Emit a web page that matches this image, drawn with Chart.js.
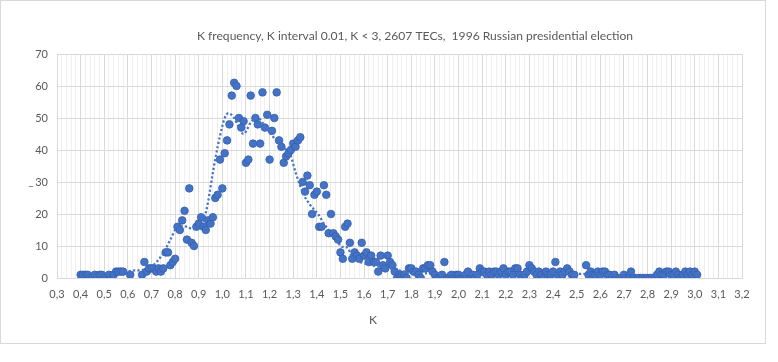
<!DOCTYPE html>
<html><head><meta charset="utf-8">
<script src="https://cdn.jsdelivr.net/npm/chart.js@4/dist/chart.umd.min.js"></script>
<style>html,body{margin:0;padding:0;background:#fff;}#wrap{width:778px;height:362px;position:relative;}</style>
</head><body><div id="wrap"><canvas id="c" width="778" height="362"></canvas></div>
<script>
const titleText = 'K frequency, K interval 0.01, K < 3, 2607 TECs,  1996 Russian presidential election';
const xAxisTitle = 'K';
const yAxisTitle = '_';
// K categories: 0.40 .. 3.01 in steps of 0.01 (null = no point)
const kStart = 0.40;
const kStep = 0.01;
const counts = [
  1,1,1,1,0,0,1,0,1,1,          // 0.40
  0,0,1,0,1,2,2,2,2,null,       // 0.50
  null,1,null,null,null,null,1,5,2,3, // 0.60
  3,3,2,3,2,3,8,8,4,5,          // 0.70
  6,16,15,18,21,12,28,11,10,16, // 0.80
  17,19,16,15,18,17,19,25,26,37,// 0.90
  28,39,43,48,57,61,60,50,47,49,// 1.00
  36,37,57,42,50,48,42,58,47,51,// 1.10
  37,46,50,58,43,41,36,38,39,40,// 1.20
  42,41,43,44,30,27,32,29,20,26,// 1.30
  27,16,16,29,26,14,20,14,13,12,// 1.40
  8,6,16,17,11,6,8,7,6,11,      // 1.50
  7,8,5,7,5,5,2,7,4,3,          // 1.60
  7,5,4,2,0,1,1,1,0,3,          // 1.70
  3,2,2,1,0,3,3,4,4,2,          // 1.80
  1,0,0,1,5,0,0,1,0,1,          // 1.90
  1,0,0,1,2,0,1,0,1,3,          // 2.00
  2,2,1,2,1,2,2,1,2,3,          // 2.10
  1,2,2,1,3,3,1,0,1,2,          // 2.20
  4,3,2,1,2,1,0,2,1,1,          // 2.30
  2,5,1,2,1,2,3,2,1,1,          // 2.40
  null,null,null,null,4,1,2,1,1,2, // 2.50
  1,2,2,1,1,0,1,0,0,0,          // 2.60
  1,0,0,2,0,0,0,0,0,0,          // 2.70
  0,0,0,0,1,2,1,1,2,2,          // 2.80
  1,1,2,1,0,1,2,1,2,1,          // 2.90
  2,1                           // 3.00
];
// moving-average trend line
const trendK = [0.40,0.50,0.58,0.62,0.66,0.70,0.75,0.78,0.81,0.83,0.85,0.875,0.90,0.92,0.94,0.96,0.98,1.00,1.01,1.025,1.05,1.07,1.09,1.105,1.12,1.15,1.18,1.21,1.25,1.29,1.31,1.345,1.37,1.405,1.43,1.46,1.49,1.51,1.53,1.55,1.60,1.67,1.74,1.81,1.90,2.00,2.20,2.40,2.50,2.56,2.70,2.85,3.00];
const trendV = [0.7,0.8,1.8,2.3,2.5,3.5,7.8,12,16,16.3,16,15.3,16,17.5,24,33,41,47.5,50,51.5,50,47,45,46.5,48.6,50,47.5,44.5,41.4,38,33,26,23,20,17,14,11,9.7,9.5,6.5,4.6,3.5,2.5,1.5,1.4,1.3,1.5,1.6,1.3,1.2,0.8,1,1.3];
const xMin = 0.3, xMax = 3.2, xMinorStep = 0.02;
const yMin = 0, yMax = 70, yStep = 10;

const pointData = [];
counts.forEach((v, i) => { if (v !== null) pointData.push({x: +(kStart + i * kStep).toFixed(2), y: v}); });
const trendData = trendK.map((k, i) => ({x: k, y: trendV[i]}));

const FONT = 'Lato, "Liberation Sans", sans-serif';
const TXT = '#595959';
const isMajor = v => Math.abs(v * 10 - Math.round(v * 10)) < 1e-6;

const decor = {
  id: 'decor',
  beforeDraw(chart) {
    const c = chart.ctx;
    c.save();
    c.fillStyle = '#fff';
    c.fillRect(0, 0, chart.width, chart.height);
    c.strokeStyle = '#d9d9d9';
    c.lineWidth = 1;
    c.strokeRect(0.5, 0.5, 765, 343);
    c.restore();
  },
  afterDraw(chart) {
    const c = chart.ctx;
    c.save();
    c.fillStyle = TXT;
    c.textAlign = 'center';
    c.textBaseline = 'middle';
    c.font = '12px ' + FONT;
    const w = c.measureText(titleText).width;
    const fs = 12 * 436 / w;
    c.font = fs.toFixed(2) + 'px ' + FONT;
    c.fillText(titleText, 415, 36);
    c.font = '12px ' + FONT;
    c.fillText(xAxisTitle, 373, 320);
    c.font = '11px ' + FONT;
    c.fillText(yAxisTitle, 31, 181);
    c.restore();
  }
};

new Chart(document.getElementById('c'), {
  type: 'scatter',
  data: {
    datasets: [
      {
        label: 'trend', data: trendData, showLine: true, order: 0,
        borderColor: '#4472C4', borderWidth: 2.25, borderDash: [2.2, 2.2],
        pointRadius: 0, cubicInterpolationMode: 'monotone', fill: false
      },
      {
        label: 'K', data: pointData, order: 1,
        backgroundColor: '#4472C4', borderColor: '#3460AE', borderWidth: 0.8,
        pointRadius: 3.8, pointHoverRadius: 3.8
      }
    ]
  },
  plugins: [decor],
  options: {
    responsive: false, animation: false, devicePixelRatio: 1,
    layout: {padding: {left: 0, right: 36, top: 54, bottom: 0}},
    plugins: {legend: {display: false}, tooltip: {enabled: false}, title: {display: false}},
    scales: {
      x: {
        type: 'linear', min: xMin, max: xMax,
        afterBuildTicks(scale) {
          const t = [];
          const n = Math.round((xMax - xMin) / xMinorStep);
          for (let i = 0; i <= n; i++) t.push({value: +(xMin + i * xMinorStep).toFixed(2)});
          scale.ticks = t;
        },
        afterFit(scale) { scale.height = 84; },
        ticks: {
          autoSkip: false, maxRotation: 0, padding: 10, color: TXT,
          font: {family: FONT, size: 11},
          callback: v => isMajor(v) ? v.toFixed(1).replace('.', ',') : ''
        },
        grid: {
          drawTicks: false,
          color: ctx => (ctx.tick && isMajor(ctx.tick.value)) ? '#d9d9d9' : '#efefef',
          lineWidth: 1
        },
        border: {color: '#d9d9d9'}
      },
      y: {
        min: yMin, max: yMax,
        afterFit(scale) { scale.width = 57; },
        ticks: {stepSize: yStep, padding: 9, color: TXT, font: {family: FONT, size: 11}},
        grid: {drawTicks: false, color: '#d9d9d9'},
        border: {display: false}
      }
    }
  }
});
</script>
</body></html>
